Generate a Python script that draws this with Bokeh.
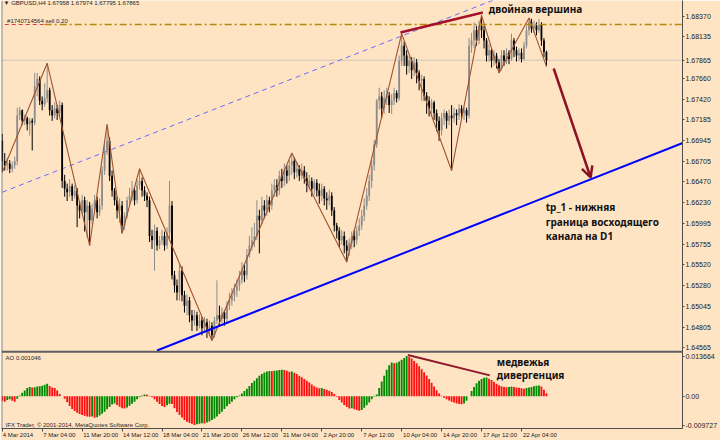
import numpy as np
from bokeh.plotting import figure
from bokeh.models import (Range1d, FixedTicker, CustomJSTickFormatter, Span, Label,
                          Arrow, OpenHead, ColumnDataSource)
from bokeh.embed import file_html
from bokeh.resources import INLINE

# ---------------- texts ----------------
header_text = "▼ GBPUSD,H4  1.67958 1.67974 1.67795 1.67865"
order_text = "#1740714564 sell 0.20"
ao_text = "AO 0.001046"
copyright_text = "IFX Trader, © 2001-2014, MetaQuotes Software Corp."
note_top = "двойная вершина"
note_target = ["tp_1 - нижняя", "граница восходящего", "канала на D1"]
note_div = ["медвежья", "дивергенция"]

time_labels = ["4 Mar 2014", "7 Mar 04:00", "11 Mar 20:00", "14 Mar 12:00", "18 Mar 04:00",
               "21 Mar 20:00", "26 Mar 12:00", "31 Mar 04:00", "2 Apr 20:00", "7 Apr 12:00",
               "10 Apr 04:00", "14 Apr 20:00", "17 Apr 12:00", "22 Apr 04:00"]
time_label_bars = [0, 16, 32, 48, 64, 80, 96, 112, 128, 144, 160, 176, 192, 208]

price_ticks = [1.68370, 1.68135, 1.67660, 1.67420, 1.67185, 1.66945, 1.66705,
               1.66470, 1.66230, 1.65995, 1.65755, 1.65520, 1.65280, 1.65045, 1.64805, 1.64565]
ao_ticks = [0.013664, 0.0, -0.009727]
ao_tick_labels = ["0.013664", "0.00", "-0.009727"]
last_price = 1.67865
sell_price = 1.68275

# ---------------- candles (price * 1e4), H4 bars ----------------
first_open = 16694
close_p = [
    16671, 16666, 16668, 16662, 16666, 16671, 16723, 16729, 16717, 16720,
    16713, 16717, 16715, 16757, 16765, 16740, 16736, 16743, 16752, 16729,
    16723, 16731, 16726, 16735, 16648, 16639, 16635, 16642, 16631, 16637,
    16620, 16614, 16626, 16612, 16620, 16603, 16616, 16626, 16612, 16620,
    16660, 16683, 16694, 16654, 16637, 16626, 16614, 16620, 16597, 16608,
    16626, 16631, 16637, 16626, 16643, 16648, 16637, 16631, 16626, 16585,
    16580, 16591, 16574, 16580, 16585, 16574, 16589, 16620, 16540, 16528,
    16520, 16545, 16517, 16505, 16511, 16494, 16488, 16494, 16482, 16488,
    16479, 16486, 16476, 16482, 16471, 16488, 16494, 16490, 16497, 16490,
    16505, 16511, 16517, 16522, 16528, 16534, 16545, 16540, 16563, 16574,
    16580, 16585, 16608, 16603, 16620, 16614, 16626, 16620, 16637, 16643,
    16637, 16654, 16648, 16660, 16654, 16666, 16671, 16658, 16662, 16654,
    16660, 16651, 16643, 16648, 16639, 16646, 16637, 16631, 16639, 16628,
    16626, 16631, 16614, 16597, 16591, 16580, 16585, 16574, 16568, 16577,
    16585, 16580, 16591, 16597, 16608, 16620, 16631, 16648, 16666, 16690,
    16740, 16745, 16731, 16743, 16746, 16735, 16740, 16749, 16743, 16786,
    16803, 16792, 16780, 16786, 16775, 16784, 16772, 16763, 16765, 16746,
    16740, 16731, 16738, 16726, 16717, 16706, 16720, 16726, 16717, 16723,
    16720, 16726, 16723, 16731, 16726, 16729, 16723, 16803, 16809, 16821,
    16809, 16826, 16821, 16809, 16792, 16798, 16786, 16792, 16784, 16777,
    16792, 16786, 16795, 16788, 16809, 16798, 16792, 16795, 16788, 16803,
    16821, 16830, 16823, 16826, 16821, 16827, 16809, 16795.8, 16786.5]
high_p = [
    16702, 16680, 16675, 16672, 16670, 16676, 16732, 16733, 16730, 16724,
    16722, 16720, 16720, 16772, 16772, 16768, 16745, 16760, 16783, 16755,
    16735, 16738, 16735, 16740, 16738, 16655, 16645, 16650, 16645, 16643,
    16640, 16625, 16632, 16630, 16626, 16624, 16622, 16632, 16630, 16628,
    16665, 16690, 16713, 16698, 16660, 16640, 16630, 16628, 16625, 16612,
    16630, 16640, 16648, 16640, 16650, 16662, 16652, 16642, 16635, 16630,
    16592, 16598, 16595, 16585, 16592, 16590, 16595, 16648, 16625, 16545,
    16535, 16553, 16550, 16522, 16518, 16515, 16500, 16500, 16498, 16495,
    16492, 16492, 16490, 16488, 16486, 16492, 16534, 16505, 16503, 16500,
    16510, 16520, 16525, 16530, 16535, 16545, 16555, 16552, 16570, 16585,
    16595, 16600, 16626, 16615, 16630, 16626, 16632, 16630, 16645, 16650,
    16650, 16660, 16662, 16668, 16666, 16672, 16680, 16675, 16670, 16666,
    16668, 16665, 16658, 16655, 16652, 16650, 16650, 16645, 16645, 16642,
    16635, 16638, 16635, 16618, 16600, 16595, 16592, 16590, 16580, 16582,
    16590, 16592, 16596, 16605, 16615, 16628, 16640, 16655, 16672, 16695,
    16742, 16755, 16750, 16752, 16755, 16750, 16748, 16755, 16752, 16792,
    16817, 16808, 16798, 16792, 16790, 16790, 16788, 16775, 16770, 16768,
    16750, 16745, 16742, 16740, 16730, 16722, 16726, 16730, 16728, 16730,
    16735, 16732, 16730, 16736, 16735, 16733, 16732, 16812, 16818, 16830,
    16826, 16832, 16838, 16826, 16812, 16805, 16800, 16798, 16795, 16788,
    16798, 16798, 16800, 16798, 16817, 16812, 16802, 16800, 16800, 16808,
    16826, 16835, 16834, 16832, 16830, 16834, 16830, 16812, 16797.4]
low_p = [
    16658, 16660, 16660, 16657, 16658, 16662, 16666, 16718, 16712, 16712,
    16706, 16700, 16683, 16712, 16745, 16735, 16729, 16733, 16738, 16723,
    16717, 16720, 16718, 16722, 16640, 16630, 16625, 16630, 16625, 16628,
    16595, 16605, 16610, 16590, 16583, 16574, 16598, 16610, 16605, 16608,
    16615, 16655, 16678, 16648, 16630, 16620, 16605, 16600, 16588, 16592,
    16605, 16620, 16625, 16620, 16622, 16638, 16630, 16625, 16618, 16578,
    16570, 16545, 16568, 16570, 16575, 16568, 16570, 16582, 16535, 16520,
    16511, 16511, 16510, 16497, 16494, 16486, 16476, 16482, 16476, 16479,
    16471, 16476, 16468, 16470, 16465, 16468, 16484, 16482, 16485, 16482,
    16486, 16500, 16505, 16510, 16515, 16522, 16530, 16532, 16535, 16560,
    16568, 16572, 16580, 16565, 16598, 16605, 16608, 16612, 16615, 16630,
    16630, 16632, 16640, 16642, 16645, 16648, 16655, 16650, 16652, 16648,
    16650, 16645, 16635, 16638, 16630, 16632, 16630, 16622, 16625, 16620,
    16615, 16620, 16608, 16590, 16582, 16572, 16575, 16565, 16555, 16562,
    16570, 16572, 16575, 16585, 16592, 16602, 16615, 16625, 16640, 16660,
    16686, 16730, 16720, 16725, 16735, 16726, 16725, 16735, 16738, 16740,
    16780, 16780, 16770, 16772, 16765, 16768, 16760, 16752, 16740, 16740,
    16725, 16722, 16725, 16718, 16705, 16694, 16700, 16712, 16708, 16712,
    16660, 16715, 16712, 16718, 16720, 16718, 16715, 16720, 16795, 16800,
    16803, 16805, 16812, 16800, 16785, 16785, 16778, 16780, 16777, 16772,
    16775, 16780, 16782, 16782, 16786, 16790, 16785, 16786, 16784, 16786,
    16800, 16815, 16818, 16818, 16815, 16818, 16803, 16790, 16779.5]

# Awesome Oscillator (value * 1e3)
ao_p = [
    -1.5, -1.8, -1.2, -1.0, -1.5, -1.8, -0.8, 0.3, 1.2, 2.0,
    2.8, 3.2, 3.0, 3.1, 3.3, 3.4, 3.6, 3.9, 4.3, 3.5,
    3.0, 2.8, 2.0, 0.8, 0.0, -0.8, -2.0, -3.3, -4.3, -5.0,
    -5.6, -6.0, -6.3, -6.6, -6.8, -6.9, -6.8, -7.3, -7.1, -6.5,
    -5.9, -5.2, -4.4, -3.6, -2.8, -2.4, -2.9, -3.5, -4.0, -4.1,
    -3.8, -3.2, -2.5, -1.8, -1.0, -0.3, 0.3, 0.6, 0.5, 0.2,
    -0.3, -1.0, -1.8, -2.6, -3.3, -3.6, -3.0, -2.5, -2.6, -4.0,
    -5.3, -6.3, -7.2, -8.0, -8.6, -9.0, -9.3, -9.727, -9.5, -9.3,
    -9.1, -9.2, -8.9, -8.5, -8.0, -7.5, -6.8, -6.0, -5.2, -4.3,
    -3.4, -2.6, -1.8, -1.0, -0.3, 0.3, 1.0, 1.8, 2.6, 3.5,
    4.5, 5.3, 6.1, 7.0, 7.6, 8.1, 8.4, 8.6, 8.5, 8.7,
    8.8, 8.9, 9.0, 8.9, 8.7, 8.3, 8.4, 8.0, 7.6, 7.0,
    6.5, 5.9, 5.3, 4.7, 4.0, 3.4, 3.0, 2.7, 2.8, 2.5,
    2.2, 1.9, 1.5, 0.8, -0.2, -1.2, -2.1, -2.9, -3.6, -4.1,
    -4.0, -4.4, -4.6, -4.9, -4.6, -3.9, -3.0, -2.1, -1.0, -0.1,
    0.6, 2.8, 5.0, 7.0, 9.0, 10.5, 11.5, 11.2, 11.4, 11.8,
    12.4, 13.0, 13.664, 13.4, 12.8, 12.0, 11.2, 10.2, 9.2, 8.2,
    7.1, 5.9, 4.6, 3.3, 2.1, 1.0, 0.2, -0.5, -1.0, -1.4,
    -1.8, -2.1, -2.4, -2.6, -2.7, -2.4, -1.5, 0.0, 1.8, 3.2,
    4.4, 5.3, 5.9, 6.3, 6.4, 6.0, 5.5, 4.9, 4.3, 3.8,
    3.4, 3.2, 3.1, 3.2, 3.3, 3.2, 3.0, 2.9, 2.7, 2.6,
    2.8, 3.0, 3.2, 3.4, 3.6, 3.7, 3.3, 2.2, 1.046]

# ZigZag pivots (bar, price*1e4)
zz_bar = [0, 18, 35, 42, 48, 55, 84, 116, 138, 160, 180, 192, 199, 211, 218]
zz_price = [16658, 16783, 16574, 16713, 16588, 16662, 16465, 16680, 16555, 16817,
            16660, 16838, 16772, 16835, 16779.5]

# drawn objects (bar, price)
channel_low_bar = [62, 276.2]
channel_low_price = [1.64536, 1.66956]
channel_up_bar = [0, 197]
channel_up_price = [1.66351, 1.68557]
resist_bar = [159.5, 192.5]
resist_price = [1.68183, 1.68412]
arrow_bar = [220.9, 235.7]
arrow_price = [1.67770, 1.66520]
div_bar = [162.5, 195.3]
div_ao = [0.0140, 0.0071]
order_line_bar = [1, 17]
level_line_bar = [17, 280]
bid_line_bar = [-1, 280]

# ---------------- layout ----------------
W, H = 720, 440
FRAME_H = 428                  # expected frame height (H minus the time axis)
BG = "#FFE4C4"
BAR_PX = 2.5                   # screen px per bar
X0 = -0.3
X1 = X0 + 682 / BAR_PX
PRICE_TOP = 1.68550
PX = 0.0001147                 # price per screen px
PRICE_BOTTOM = PRICE_TOP - FRAME_H * PX
AO_T = 353.0
F = (FRAME_H - AO_T) / 80.0


def rx(px):
    return (px - 1.7) / BAR_PX


def ry(py):
    return PRICE_TOP - py * PX


def ao_y(py):
    return ry(AO_T + (py - AO_T) * F)


y_hi, y_lo = AO_T + (355.7 - AO_T) * F, AO_T + (429.3 - AO_T) * F
AO_S = (ao_ticks[0] - ao_ticks[2]) / (y_lo - y_hi)
zero_c = y_hi + ao_ticks[0] / AO_S
AO_TOP = zero_c * AO_S
AO_BOTTOM = -(FRAME_H - zero_c) * AO_S

n = len(close_p)
bars = np.arange(n)
close = np.array(close_p) / 1e4
high = np.array(high_p) / 1e4
low = np.array(low_p) / 1e4
open_ = np.array([first_open] + close_p[:-1]) / 1e4
bull = close > open_
ccol = np.where(bull, "#8c8c8c", "#000000")

ao = np.array(ao_p) / 1e3
ao_col = ["#ff1010"] + ["#008a00" if ao[i] > ao[i - 1] else "#ff1010" for i in range(1, n)]

p = figure(width=W, height=H, output_backend="svg", toolbar_location=None,
           x_range=Range1d(X0, X1), y_range=Range1d(PRICE_BOTTOM, PRICE_TOP),
           y_axis_location="right", min_border_left=1, min_border_right=0,
           min_border_top=0, min_border_bottom=0,
           background_fill_color=BG, border_fill_color=BG, outline_line_color=None)
p.extra_y_ranges = {"ao": Range1d(AO_BOTTOM, AO_TOP)}
p.grid.visible = False

# current-price line and upper dashed channel (behind candles)
p.line(bid_line_bar, [last_price] * 2, line_color="#cfc6bd", line_width=1)
p.line(channel_up_bar, channel_up_price, line_color="#6a6aff", line_width=1, line_dash="5 4")

# candles
src = ColumnDataSource(dict(x=bars, o=open_, h=high, l=low, c=close,
                            top=np.maximum(open_, close), bot=np.minimum(open_, close), col=ccol))
p.segment(x0="x", y0="l", x1="x", y1="h", source=src, line_color="col", line_width=1)
p.vbar(x="x", width=0.72, top="top", bottom="bot", source=src, fill_color="col", line_color=None)

# zigzag
p.line(zz_bar, np.array(zz_price) / 1e4, line_color="#a0522d", line_width=1.1)

# sell order level
p.line(order_line_bar, [sell_price] * 2, line_color="#e03c3c", line_width=1.2, line_dash="4 3")
p.line(level_line_bar, [sell_price] * 2, line_color="#b8860b", line_width=1.6, line_dash="7 3 2 3")

# lower channel, resistance, arrow
p.line(channel_low_bar, channel_low_price, line_color="#0000ff", line_width=2)
p.line(resist_bar, resist_price, line_color="#a3122a", line_width=2.5)
p.add_layout(Arrow(end=OpenHead(size=11, line_color="#8b1224", line_width=2.5),
                   x_start=arrow_bar[0], y_start=arrow_price[0],
                   x_end=arrow_bar[1], y_end=arrow_price[1],
                   line_color="#8b1224", line_width=2.5))

# AO histogram
p.vbar(x=bars, width=0.75, top=ao, bottom=0, fill_color=ao_col, line_color=None, y_range_name="ao")
p.line(div_bar, div_ao, line_color="#8b1a2b", line_width=2, y_range_name="ao")

# panel separator and left border
p.add_layout(Span(location=ry(351.2), dimension="width", line_color="#5e5e5e", line_width=2))
p.add_layout(Span(location=X0 + 0.15, dimension="height", line_color="#5e5e5e", line_width=1))

# right axis: price ticks, current price and AO ticks (AO ticks mapped onto the price scale)
ao_tick_pos = [PRICE_BOTTOM + (v - AO_BOTTOM) / (AO_TOP - AO_BOTTOM) * (PRICE_TOP - PRICE_BOTTOM)
               for v in ao_ticks]
ya = p.yaxis[0]
ya.ticker = FixedTicker(ticks=price_ticks + [last_price] + ao_tick_pos)
ya.formatter = CustomJSTickFormatter(
    args=dict(pos=ao_tick_pos, labs=ao_tick_labels),
    code="""
for (let i = 0; i < pos.length; i++) {
  if (Math.abs(tick - pos[i]) < 1e-7) { return labs[i]; }
}
return tick.toFixed(5);
""")
ya.major_label_text_font = "Liberation Sans"
ya.major_label_text_font_size = "7px"
ya.major_label_text_color = "#1a1a1a"
ya.major_tick_out = 2
ya.major_tick_in = 0
ya.minor_tick_line_color = None
ya.major_label_standoff = 1
ya.axis_line_color = "#4d4d4d"
ya.major_tick_line_color = "#4d4d4d"

# time axis: tick marks (minor ticks) at the bars, labels start just right of them
label_pos = [b + (len(t) * 2.85 / 2 + 1.5) / BAR_PX for b, t in zip(time_label_bars, time_labels)]
xa = p.xaxis[0]
xa.ticker = FixedTicker(ticks=label_pos, minor_ticks=time_label_bars)
xa.formatter = CustomJSTickFormatter(
    args=dict(pos=label_pos, labs=time_labels),
    code="""
for (let i = 0; i < pos.length; i++) {
  if (Math.abs(tick - pos[i]) < 1e-6) { return labs[i]; }
}
return '';
""")
xa.major_label_text_font = "Liberation Sans"
xa.major_label_text_font_size = "6px"
xa.major_label_text_color = "#1a1a1a"
xa.major_tick_out = 3
xa.major_tick_in = 0
xa.major_tick_line_color = None
xa.minor_tick_out = 3
xa.minor_tick_in = 0
xa.minor_tick_line_color = "#4d4d4d"
xa.major_label_standoff = 0
xa.axis_line_color = "#4d4d4d"

# small texts
small = dict(text_font="Liberation Sans", text_color="#262626", text_baseline="middle", text_align="left")
p.add_layout(Label(x=rx(3), y=ry(2.5), text=header_text, text_font_size="6px", **small))
p.add_layout(Label(x=rx(6.5), y=ry(20.5), text=order_text, text_font_size="6px", **small))
p.add_layout(Label(x=rx(5), y=ao_y(357.5), text=ao_text, text_font_size="6px", **small))
p.add_layout(Label(x=rx(5), y=ao_y(429.0), text=copyright_text, text_font_size="6px", **small))

# notes
big = dict(text_font="Noto Sans", text_font_style="bold", text_color="#111111",
           text_baseline="middle", text_align="left", text_font_size="10px")
p.add_layout(Label(x=rx(489), y=ry(8.5), text=note_top, **big))
for t, yy in zip(note_target, [206.7, 221.0, 235.7]):
    p.add_layout(Label(x=rx(546), y=ry(yy), text=t, **big))
for t, yy in zip(note_div, [361.7, 376.0]):
    p.add_layout(Label(x=rx(497), y=ao_y(yy), text=t, **big))

with open("out.html", "w", encoding="utf-8") as f:
    f.write(file_html(p, INLINE, "GBPUSD H4"))
